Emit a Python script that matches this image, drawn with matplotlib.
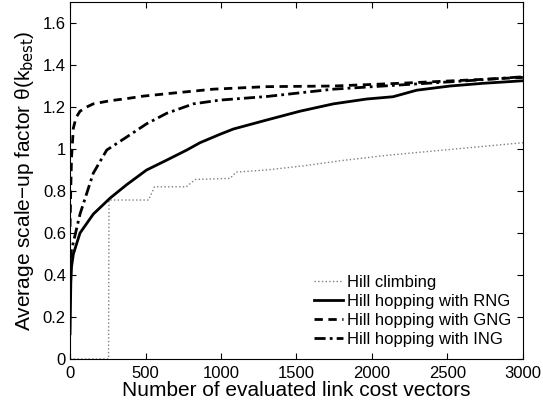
import matplotlib
matplotlib.use("Agg")
import matplotlib.pyplot as plt

plt.rcParams["font.family"] = ["Liberation Sans", "DejaVu Sans"]

# Hill climbing (step-like dotted curve)
hc_x = [0, 255, 258, 520, 560, 770, 830, 1060, 1100, 1300, 1550, 1800, 2100, 2400, 2700, 3000]
hc_y = [0, 0, 0.757, 0.757, 0.82, 0.82, 0.855, 0.86, 0.89, 0.90, 0.92, 0.945, 0.97, 0.99, 1.01, 1.03]

# Hill hopping with RNG
rng_x = [0, 5, 10, 22, 66, 154, 265, 375, 507, 640, 773, 861, 993, 1081, 1302, 1523, 1744,
         1964, 2140, 2296, 2517, 2737, 3000]
rng_y = [0.12, 0.36, 0.44, 0.50, 0.60, 0.69, 0.766, 0.83, 0.90, 0.947, 0.995, 1.03, 1.07, 1.095,
         1.138, 1.18, 1.215, 1.238, 1.249, 1.28, 1.30, 1.313, 1.325]

# Hill hopping with GNG
gng_x = [0, 5, 10, 22, 40, 66, 110, 154, 265, 375, 486, 706, 949, 1302, 1744, 2185, 2627, 3000]
gng_y = [0.63, 0.82, 0.96, 1.10, 1.15, 1.18, 1.20, 1.215, 1.23, 1.24, 1.252, 1.268, 1.285,
         1.297, 1.30, 1.313, 1.328, 1.341]

# Hill hopping with ING
ing_x = [0, 10, 30, 66, 154, 243, 375, 507, 640, 817, 993, 1302, 1744, 2185, 2627, 3000]
ing_y = [0.47, 0.52, 0.58, 0.69, 0.885, 0.995, 1.057, 1.12, 1.17, 1.215, 1.233, 1.25,
         1.285, 1.305, 1.325, 1.344]

x_ticks = [0, 500, 1000, 1500, 2000, 2500, 3000]
y_ticks = [0, 0.2, 0.4, 0.6, 0.8, 1.0, 1.2, 1.4, 1.6]
y_labels = ["0", "0.2", "0.4", "0.6", "0.8", "1", "1.2", "1.4", "1.6"]

fig = plt.figure(figsize=(5.43, 4.07), dpi=100)
ax = fig.add_axes([0.129, 0.118, 0.834, 0.877])

ax.plot(hc_x, hc_y, ls=":", color="#808080", lw=1.0, label="Hill climbing")
ax.plot(rng_x, rng_y, ls="-", color="black", lw=2.0, label="Hill hopping with RNG")
ax.plot(gng_x, gng_y, ls=(0, (3, 2)), color="black", lw=2.0, label="Hill hopping with GNG")
ax.plot(ing_x, ing_y, ls=(0, (4, 1.5, 1, 1.5)), color="black", lw=2.0,
        label="Hill hopping with ING")

ax.set_xlim(0, 3000)
ax.set_ylim(0, 1.7)
ax.set_xticks(x_ticks)
ax.set_xticklabels([str(t) for t in x_ticks])
ax.set_yticks(y_ticks)
ax.set_yticklabels(y_labels)
ax.tick_params(direction="in", top=True, right=True, labelsize=12, length=4)
ax.tick_params(axis="x", pad=5)
ax.tick_params(axis="y", pad=3)

ax.set_xlabel("Number of evaluated link cost vectors", fontsize=15, labelpad=0)
ax.set_ylabel(r"Average scale−up factor θ(k$_{\mathrm{best}}$)", fontsize=15, labelpad=5)

ax.legend(loc="lower right", frameon=False, fontsize=12, handlelength=1.7,
          handletextpad=0.25, labelspacing=0.25, borderaxespad=0.4, borderpad=0.3)

fig.savefig("out.png", dpi=100)
